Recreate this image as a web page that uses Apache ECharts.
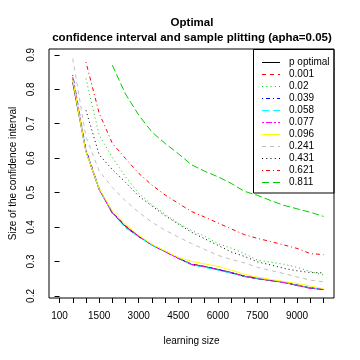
<!DOCTYPE html>
<html lang="en">
<head>
    <meta charset="UTF-8">
    <title>Optimal confidence interval</title>
    <script src="https://cdnjs.cloudflare.com/ajax/libs/echarts/6.0.0/echarts.min.js"></script>
</head>
<body style="margin:0">
<div id="chart" style="width: 360px;height:360px;"></div>
<script type="text/javascript">
    // learning sizes (categories, evenly spaced on the axis)
    var sizes = ['100', '500', '1000', '1500', '2000', '2500', '3000', '3500', '4000', '4500', '5000',
        '5500', '6000', '6500', '7000', '7500', '8000', '8500', '9000', '9500', '10000'];
    var xTickIdx = [0, 1, 2, 3, 4, 5, 6, 7, 8, 9, 10, 11, 12, 13, 14, 15, 16, 17, 18, 19, 20];
    var xLabelIdx = [0, 3, 6, 9, 12, 15, 18];
    var yTicks = [0.2, 0.3, 0.4, 0.5, 0.6, 0.7, 0.8, 0.9];

    var names = ['p optimal', '0.001', '0.02', '0.039', '0.058', '0.077', '0.096', '0.241', '0.431', '0.621', '0.811'];

    var pOptimal = [null, 0.82, 0.62, 0.51, 0.440, 0.402, 0.373, 0.348, 0.329, 0.310, 0.291, 0.285, 0.277, 0.268, 0.257, 0.250, 0.245, 0.240, 0.231, 0.223, 0.219];
    var p001 = [null, 0.835, 0.62, 0.51, 0.443, 0.404, 0.374, 0.349, 0.330, 0.310, 0.293, 0.286, 0.277, 0.268, 0.258, 0.252, 0.246, 0.240, 0.232, 0.224, 0.219];
    var p02 = [null, null, 0.831, 0.667, 0.602, 0.546, 0.498, 0.465, 0.437, 0.411, 0.390, 0.373, 0.352, 0.339, 0.323, 0.304, 0.298, 0.292, 0.283, 0.271, 0.261];
    var p039 = [null, 0.841, 0.625, 0.512, 0.443, 0.400, 0.372, 0.348, 0.329, 0.309, 0.292, 0.284, 0.276, 0.267, 0.257, 0.251, 0.245, 0.239, 0.231, 0.223, 0.219];
    var p058 = [null, 0.83, 0.62, 0.508, 0.441, 0.398, 0.371, 0.348, 0.330, 0.310, 0.291, 0.283, 0.275, 0.266, 0.256, 0.251, 0.246, 0.240, 0.231, 0.223, 0.219];
    var p077 = [null, 0.83, 0.62, 0.51, 0.442, 0.401, 0.373, 0.349, 0.329, 0.309, 0.292, 0.285, 0.276, 0.268, 0.257, 0.250, 0.244, 0.239, 0.230, 0.222, 0.220];
    var p096 = [null, 0.828, 0.618, 0.512, 0.447, 0.408, 0.376, 0.350, 0.331, 0.312, 0.300, 0.293, 0.286, 0.275, 0.263, 0.255, 0.248, 0.242, 0.236, 0.229, 0.221];
    var p241 = [null, 0.889, 0.662, 0.563, 0.515, 0.476, 0.443, 0.414, 0.391, 0.371, 0.352, 0.335, 0.318, 0.306, 0.296, 0.283, 0.274, 0.265, 0.255, 0.246, 0.241];
    var p431 = [null, null, 0.739, 0.61, 0.567, 0.530, 0.490, 0.461, 0.433, 0.409, 0.385, 0.366, 0.347, 0.328, 0.315, 0.299, 0.290, 0.280, 0.273, 0.268, 0.267];
    var p621 = [null, null, 0.879, 0.731, 0.643, 0.599, 0.556, 0.522, 0.493, 0.469, 0.445, 0.429, 0.412, 0.395, 0.378, 0.367, 0.358, 0.348, 0.338, 0.323, 0.320];
    var p811 = [null, null, null, null, 0.870, 0.786, 0.725, 0.676, 0.643, 0.613, 0.581, 0.562, 0.546, 0.527, 0.504, 0.492, 0.477, 0.463, 0.453, 0.443, 0.431];

    var allValues = [pOptimal, p001, p02, p039, p058, p077, p096, p241, p431, p621, p811];

    // R default palette + lty cycle
    var colors = ['#000000', '#FF0000', '#00CD00', '#0000FF', '#00FFFF', '#FF00FF', '#FFFF00', '#BEBEBE', '#000000', '#FF0000', '#00CD00'];
    var dashes = ['solid', [4, 4], [1, 3], [1, 3, 4, 3], [7, 3], [2, 2, 6, 2], 'solid', [4, 4], [1, 3], [1, 3, 4, 3], [7, 3]];

    // legend samples as 18x1 paths (solid, dashed, dotted, dotdash, longdash, twodash)
    var ltyIcons = {
        solid: 'path://M0,0h18v1h-18z',
        dashed: 'path://M0,0h4v1h-4zM8,0h4v1h-4zM16,0h2v1h-2z',
        dotted: 'path://M0,0h1v1h-1zM4.25,0h1v1h-1zM8.5,0h1v1h-1zM12.75,0h1v1h-1zM17,0h1v1h-1z',
        dotdash: 'path://M0,0h1v1h-1zM4,0h4v1h-4zM11,0h1v1h-1zM15,0h3v1h-3z',
        longdash: 'path://M0,0h7v1h-7zM11,0h7v1h-7z',
        twodash: 'path://M0,0h2v1h-2zM4,0h6v1h-6zM12,0h2v1h-2zM16,0h2v1h-2z'
    };
    var ltyNames = ['solid', 'dashed', 'dotted', 'dotdash', 'longdash', 'twodash', 'solid', 'dashed', 'dotted', 'dotdash', 'longdash'];

    var chart = echarts.init(document.getElementById('chart'));

    var series = names.map(function (name, k) {
        var pts = [];
        allValues[k].forEach(function (v, i) {
            if (v !== null) pts.push([i, v]);
        });
        return {
            name: name,
            type: 'line',
            symbol: 'none',
            showSymbol: false,
            data: pts,
            color: colors[k],
            lineStyle: {color: colors[k], width: 1, type: dashes[k]}
        };
    });

    var legendData = names.map(function (name, k) {
        return {
            name: name,
            icon: ltyIcons[ltyNames[k]],
            itemStyle: {color: colors[k]}
        };
    });

    var font = 'Liberation Sans, Arial, sans-serif';

    var option = {
        animation: false,
        textStyle: {fontFamily: font},
        title: {
            text: 'Optimal\nconfidence interval and sample plitting (apha=0.05)',
            left: 187,
            top: 10,
            textAlign: 'center',
            textStyle: {fontSize: 11.5, fontWeight: 'bold', color: '#000', lineHeight: 15, fontFamily: font}
        },
        grid: {
            left: 49, right: 26, top: 49, bottom: 62,
            show: true, borderColor: '#000', borderWidth: 1
        },
        legend: {
            data: legendData,
            orient: 'vertical',
            left: 262,
            top: 56.5,
            padding: 0,
            itemWidth: 18,
            itemHeight: 1,
            itemGap: 0,
            textStyle: {fontSize: 10, color: '#000', padding: [0, 0, 0, 4], lineHeight: 12, fontFamily: font}
        },
        graphic: [{
            type: 'rect',
            shape: {x: 253.5, y: 49.5, width: 80.5, height: 143.5},
            style: {fill: 'none', stroke: '#000', lineWidth: 1},
            z: 100
        }],
        xAxis: {
            type: 'value',
            min: -0.8,
            max: 20.8,
            name: 'learning size',
            nameLocation: 'middle',
            nameGap: 38,
            nameTextStyle: {fontSize: 10, color: '#000'},
            axisLine: {show: false},
            splitLine: {show: false},
            axisTick: {show: true, length: 5, customValues: xTickIdx, lineStyle: {color: '#000'}},
            axisLabel: {
                customValues: xLabelIdx, fontSize: 10, color: '#000', margin: 13,
                formatter: function (v) { return sizes[Math.round(v)]; }
            }
        },
        yAxis: {
            type: 'value',
            min: 0.194,
            max: 0.917,
            name: 'Size of the confidence interval',
            nameLocation: 'middle',
            nameGap: 30,
            nameRotate: 90,
            nameTextStyle: {fontSize: 10, color: '#000'},
            axisLine: {show: false},
            splitLine: {show: false},
            axisTick: {show: true, length: 5, customValues: yTicks, lineStyle: {color: '#000'}},
            axisLabel: {
                customValues: yTicks, fontSize: 10, color: '#000', margin: 13, rotate: 90,
                formatter: function (v) { return v.toFixed(1); }
            }
        },
        series: series
    };

    chart.setOption(option);
</script>
</body>
</html>
